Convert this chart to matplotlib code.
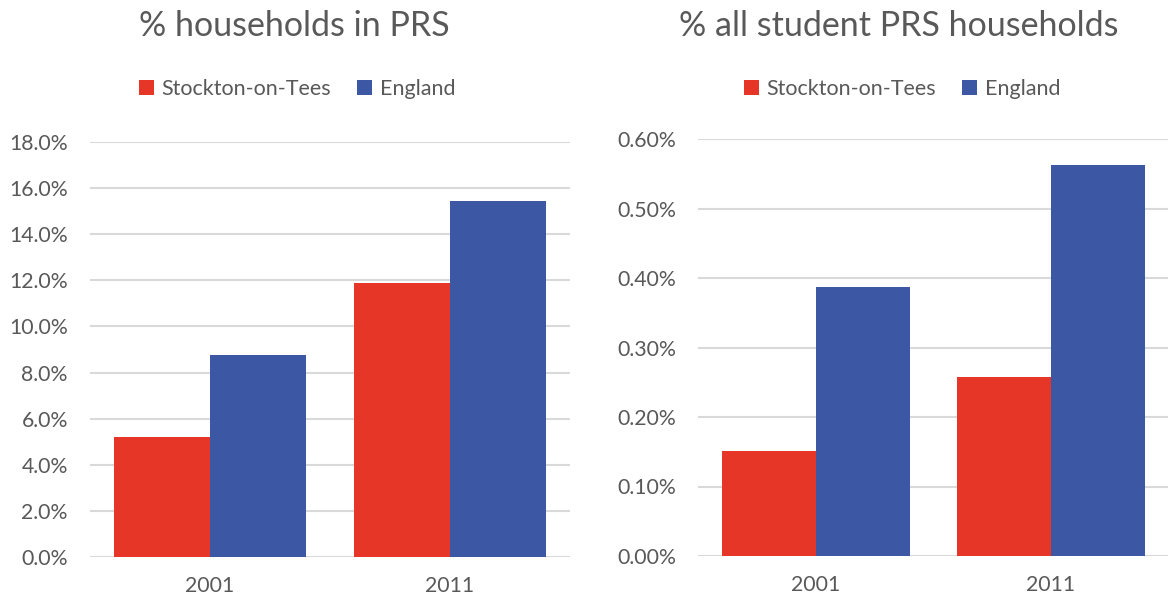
import numpy as np
import matplotlib
matplotlib.use("Agg")
import matplotlib.pyplot as plt
from matplotlib.ticker import PercentFormatter

plt.rcParams['font.family'] = ['Lato', 'DejaVu Sans']

# data
years = ["2001", "2011"]
series = ["Stockton-on-Tees", "England"]
prs_stockton = [0.0522, 0.1188]
prs_england = [0.0878, 0.1542]
student_stockton = [0.00151, 0.00257]
student_england = [0.00387, 0.00563]

red = "#E53627"
blue = "#3C57A4"
grey_text = "#595959"
grid_col = "#D9D9D9"

W, H = 1170, 598
fig = plt.figure(figsize=(W / 100, H / 100), dpi=100)


def px_axes(x0, x1, ytop, ybot):
    return fig.add_axes([x0 / W, (H - ybot) / H, (x1 - x0) / W, (ybot - ytop) / H])


def draw_panel(ax, a, b, ymax, step, decimals, title, title_x, legend_x):
    x = np.arange(len(years))
    w = 0.4
    ax.bar(x - w / 2, a, w, color=red, label=series[0], zorder=3)
    ax.bar(x + w / 2, b, w, color=blue, label=series[1], zorder=3)
    ax.set_xlim(-0.5, len(years) - 0.5)
    ax.set_ylim(0, ymax)
    ax.set_yticks(np.arange(0, ymax + step / 2, step))
    ax.yaxis.set_major_formatter(PercentFormatter(xmax=1, decimals=decimals))
    ax.set_xticks(x)
    ax.set_xticklabels(years)
    ax.grid(axis='y', color=grid_col, linewidth=1.5, zorder=0)
    for s in ax.spines.values():
        s.set_visible(False)
    ax.tick_params(axis='both', length=0, labelsize=15.3, labelcolor=grey_text)
    ax.tick_params(axis='y', pad=16)
    ax.tick_params(axis='x', pad=14)
    fig.text(title_x / W, 1 - 26 / H, title, ha='center', va='center',
             fontsize=24.5, color=grey_text)
    ax.legend(loc='center', bbox_to_anchor=(legend_x / W, 1 - 89 / H),
              bbox_transform=fig.transFigure, ncol=2, frameon=False,
              fontsize=15.5, handlelength=0.7, handleheight=0.7,
              handletextpad=0.35, columnspacing=1.2, labelcolor=grey_text)


ax1 = px_axes(90, 570, 142, 557)
draw_panel(ax1, prs_stockton, prs_england, 0.18, 0.02, 1,
           "% households in PRS", 294, 297)

ax2 = px_axes(698, 1168, 139, 556)
draw_panel(ax2, student_stockton, student_england, 0.006, 0.001, 2,
           "% all student PRS households", 899, 902)

fig.savefig("out.png", dpi=100)
